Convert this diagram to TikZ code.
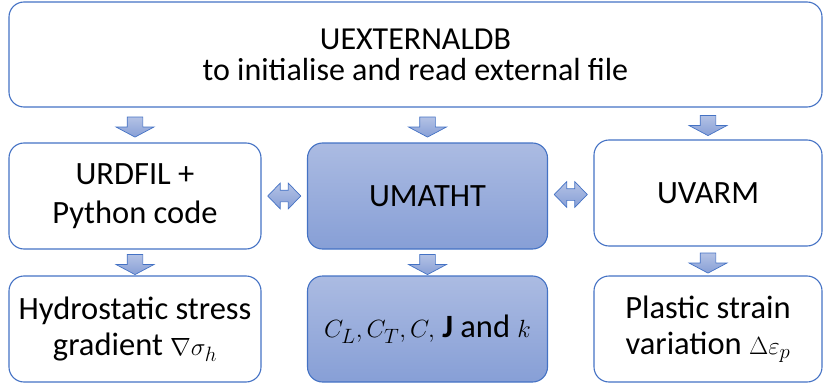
\documentclass[tikz,border=0pt]{standalone}
\usepackage{amsmath, amssymb}
\usepackage{fontspec}
\setmainfont{Carlito}
\usetikzlibrary{shapes.arrows, calc}
\definecolor{boxline}{HTML}{4472C4}
\definecolor{shadetop}{HTML}{ABBBE2}
\definecolor{shadebot}{HTML}{879FD6}

\begin{document}
\begin{tikzpicture}[x=1pt, y=-1pt,
		box/.style={draw=boxline, line width=1.1pt, rounded corners=15pt, align=center,
			font=\fontsize{32.5}{39}\selectfont, inner sep=0pt},
		filledbox/.style={box, top color=shadetop, bottom color=shadebot},
		downarr/.style={single arrow, draw=boxline, line width=0.7pt, top color=shadetop!90,
			bottom color=shadebot, shape border rotate=270, minimum height=20pt,
			minimum width=37pt, inner sep=7.5pt, single arrow head extend=11pt,
			single arrow tip angle=124},
		twoarr/.style={double arrow, draw=boxline, line width=0.7pt, top color=shadetop!90,
			bottom color=shadebot, minimum height=33pt, minimum width=25pt, inner sep=5.5pt,
			double arrow head extend=7pt, double arrow tip angle=92}]
	\useasboundingbox (0,0) rectangle (824,385);
	% boxes
	\node[box, font=\fontsize{32}{31}\selectfont, minimum width=813pt, minimum height=105pt] (uext) at (415.5,54.5)
		{UEXTERNALDB\\to initialise and read external file};
	\node[box, minimum width=252pt, minimum height=106pt] (urdfil) at (135,196) {URDFIL +\\Python code};
	\node[filledbox, minimum width=240pt, minimum height=106pt] (umatht) at (427.5,196) {UMATHT};
	\node[box, minimum width=228pt, minimum height=106pt] (uvarm) at (708,193) {UVARM};
	\node[box, font=\fontsize{32.5}{36}\selectfont, minimum width=252pt, minimum height=106pt] (hydro) at (135,329)
		{Hydrostatic stress\\gradient $\nabla\sigma_h$};
	\node[filledbox, minimum width=240pt, minimum height=106pt] (coeffs) at (427.5,329)
		{$C_L, C_T, C,$ \textbf{J} and $k$};
	\node[box, font=\fontsize{32.5}{36}\selectfont, minimum width=228pt, minimum height=106pt] (plastic) at (708,329)
		{Plastic strain\\variation $\Delta\varepsilon_p$};
	% block arrows
	\node[downarr] (a1) at ($(uext.south -| urdfil)!0.5!(urdfil.north)$) {};
	\node[downarr] (a2) at ($(uext.south -| umatht)!0.5!(umatht.north)$) {};
	\node[downarr] (a3) at ($(uext.south -| uvarm)!0.5!(uvarm.north)$) {};
	\node[downarr] (a4) at ($(urdfil.south)!0.5!(hydro.north)$) {};
	\node[downarr] (a5) at ($(umatht.south)!0.5!(coeffs.north)$) {};
	\node[downarr] (a6) at ($(uvarm.south -| plastic)!0.5!(plastic.north)$) {};
	\node[twoarr] (d1) at ($(urdfil.east)!0.5!(umatht.west)$) {};
	\node[twoarr] (d2) at ($(umatht.east)!0.5!(uvarm.west)$) {};
\end{tikzpicture}
\end{document}
